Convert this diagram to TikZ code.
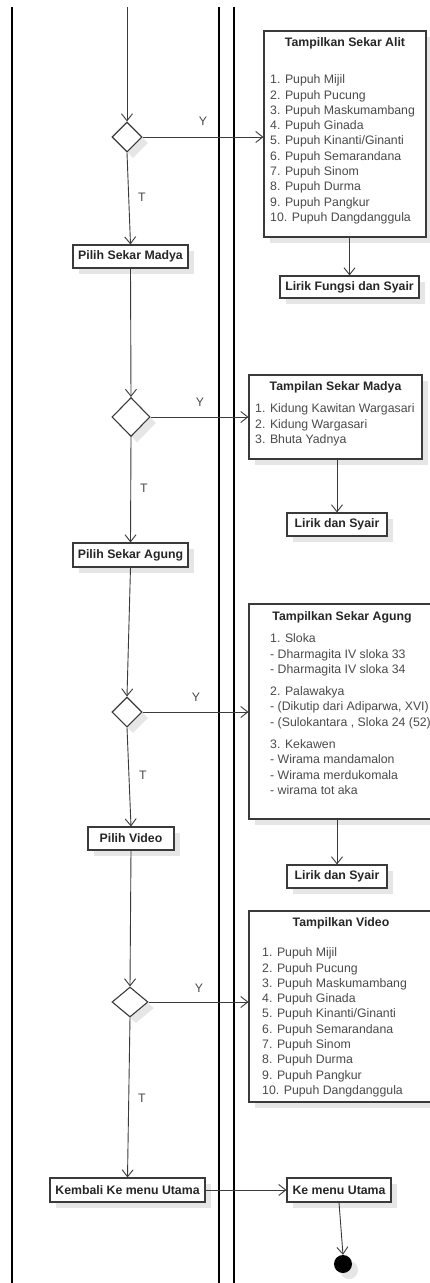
\documentclass[tikz,border=0pt]{standalone}
\usepackage{fontspec}
\setmainfont{Liberation Sans}
\usetikzlibrary{arrows.meta,shapes.geometric,shadows}
\definecolor{edgec}{HTML}{3A3A3A}
\definecolor{listc}{HTML}{4A4A4A}
\definecolor{shadowc}{HTML}{E6E6E6}
\tikzset{
 sh/.style={drop shadow={shadow xshift=6pt,shadow yshift=-6pt,fill=shadowc,opacity=1}},
 actbox/.style={draw=edgec,line width=1.1pt,fill=white,sh,inner sep=0pt,font=\fontsize{12.3}{15.3}\selectfont\bfseries,text=black!85},
 listbox/.style={draw=edgec,line width=1.1pt,fill=white,sh,inner sep=0pt},
 dec/.style={diamond,draw=edgec,line width=1.1pt,fill=white,sh,inner sep=0pt},
 ttl/.style={font=\fontsize{12.3}{15.3}\selectfont\bfseries,text=black!85,inner sep=0pt},
 lst/.style={font=\fontsize{12.3}{15.3}\selectfont,text=listc,align=left,inner sep=0pt,anchor=north west},
 lbl/.style={font=\fontsize{12.3}{15.3}\selectfont,text=listc,inner sep=0pt},
 flow/.style={draw=edgec,line width=0.9pt,-{Straight Barb[length=7pt,width=11pt]}},
 lane/.style={draw=black,line width=2pt},
}
\begin{document}
\begin{tikzpicture}[x=1pt,y=-1pt]
\useasboundingbox (0,0) rectangle (430,1283);
\clip (0,0) rectangle (430,1283);
\fill[white] (0,0) rectangle (430,1283);
% swimlane separators
\draw[lane] (12,7) -- (12,1283);
\draw[lane] (219,7) -- (219,1283);
\draw[lane] (234,7) -- (234,1283);
\coordinate (start) at (127,7);
% left lane
\node[dec,minimum width=30pt,minimum height=30pt] (d1) at (127,137) {};
\node[actbox,minimum width=115pt,minimum height=23pt] (pm) at (130.5,256.5) {Pilih Sekar Madya};
\node[dec,minimum width=38pt,minimum height=39pt] (d2) at (131,417) {};
\node[actbox,minimum width=115pt,minimum height=24pt] (pa) at (130.5,555) {Pilih Sekar Agung};
\node[dec,minimum width=30pt,minimum height=30pt] (d3) at (127,712) {};
\node[actbox,minimum width=86pt,minimum height=23pt] (pv) at (131,838.5) {Pilih Video};
\node[dec,minimum width=36pt,minimum height=30pt] (d4) at (130,1002) {};
\node[actbox,minimum width=155pt,minimum height=24pt] (kb) at (127.5,1190) {Kembali Ke menu Utama};
% right lane
\node[listbox,minimum width=162pt,minimum height=206pt] (b1) at (345,134) {};
\node[ttl] (t1) at (345,43) {Tampilkan Sekar Alit};
\node[lst] (l1) at (270,74.6) {1. Pupuh Mijil\\2. Pupuh Pucung\\3. Pupuh Maskumambang\\4. Pupuh Ginada\\5. Pupuh Kinanti/Ginanti\\6. Pupuh Semarandana\\7. Pupuh Sinom\\8. Pupuh Durma\\9. Pupuh Pangkur\\10. Pupuh Dangdanggula};
\node[actbox,minimum width=139pt,minimum height=22pt] (r1) at (349.5,287) {Lirik Fungsi dan Syair};
\node[listbox,minimum width=173pt,minimum height=84pt] (b2) at (335.5,417) {};
\node[ttl] (t2) at (335.5,387) {Tampilan Sekar Madya};
\node[lst] (l2) at (255,403.6) {1. Kidung Kawitan Wargasari\\2. Kidung Wargasari\\3. Bhuta Yadnya};
\node[actbox,minimum width=100pt,minimum height=23pt] (r2) at (337,524.5) {Lirik dan Syair};
\node[listbox,minimum width=185pt,minimum height=215pt] (b3) at (341.5,711.5) {};
\node[ttl] (t3) at (342,617) {Tampilkan Sekar Agung};
\node[lst] (l3) at (270,633.6) {1. Sloka\\- Dharmagita IV sloka 33\\- Dharmagita IV sloka 34\\[7pt]2. Palawakya\\- (Dikutip dari Adiparwa, XVI)\\- (Sulokantara , Sloka 24 (52)\\[7pt]3. Kekawen\\- Wirama mandamalon\\- Wirama merdukomala\\- wirama tot aka};
\node[actbox,minimum width=100pt,minimum height=23pt] (r3) at (337,876.5) {Lirik dan Syair};
\node[listbox,minimum width=185pt,minimum height=191pt] (b4) at (341.5,1006.5) {};
\node[ttl] (t4) at (341,923) {Tampilkan Video};
\node[lst] (l4) at (262,947.6) {1. Pupuh Mijil\\2. Pupuh Pucung\\3. Pupuh Maskumambang\\4. Pupuh Ginada\\5. Pupuh Kinanti/Ginanti\\6. Pupuh Semarandana\\7. Pupuh Sinom\\8. Pupuh Durma\\9. Pupuh Pangkur\\10. Pupuh Dangdanggula};
\node[actbox,minimum width=104pt,minimum height=24pt] (km) at (339,1190) {Ke menu Utama};
\node[circle,fill=black,minimum size=18pt,inner sep=0pt,sh] (fin) at (343,1264) {};
% connectors
\draw[flow] (start) -- (d1.north);
\draw[flow] (d1.east) -- (d1.east -| b1.west);
\draw[flow] (d1.south) -- (pm.north);
\draw[flow] (b1.south -| r1.north) -- (r1.north);
\draw[flow] (pm.south) -- (d2.north);
\draw[flow] (d2.east) -- (d2.east -| b2.west);
\draw[flow] (d2.south) -- (pa.north);
\draw[flow] (b2.south -| r2.north) -- (r2.north);
\draw[flow] (pa.south) -- (d3.north);
\draw[flow] (d3.east) -- (d3.east -| b3.west);
\draw[flow] (d3.south) -- (pv.north);
\draw[flow] (b3.south -| r3.north) -- (r3.north);
\draw[flow] (pv.south) -- (d4.north);
\draw[flow] (d4.east) -- (d4.east -| b4.west);
\draw[flow] (d4.south) -- (kb.north);
\draw[flow] (kb.east) -- (km.west);
\draw[flow] (km.south) -- (fin.north);
% labels
\node[lbl] (y1) at (203,121) {Y};
\node[lbl] (y2) at (200,402) {Y};
\node[lbl] (y3) at (196,697) {Y};
\node[lbl] (y4) at (199,988) {Y};
\node[lbl] (n1) at (142,197) {T};
\node[lbl] (n2) at (144,488) {T};
\node[lbl] (n3) at (143,775) {T};
\node[lbl] (n4) at (142,1098) {T};
\end{tikzpicture}
\end{document}
